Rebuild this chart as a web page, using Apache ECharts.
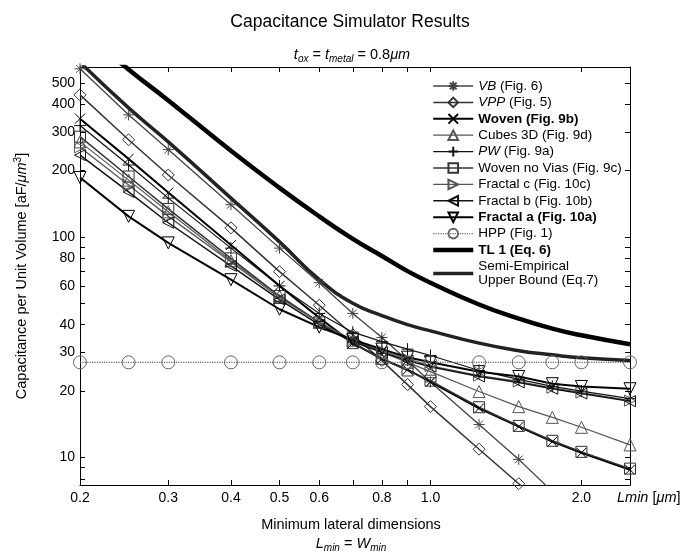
<!DOCTYPE html>
<html>
<head>
<meta charset="utf-8">
<script src="https://cdn.jsdelivr.net/npm/echarts@6/dist/echarts.min.js"></script>
<style>
html, body { margin: 0; padding: 0; background: #fff; }
#chart { width: 696px; height: 558px; }
</style>
</head>
<body>
<div id="chart"></div>
<script>
// Lmin = Wmin [um]
const xs = [0.2, 0.25, 0.3, 0.4, 0.5, 0.6, 0.7, 0.8, 0.9, 1.0, 1.25, 1.5, 1.75, 2.0, 2.5]

// capacitance per unit volume [aF/um^3]
const vb = [579, 358, 249, 140, 89, 62, 45, 35, 27.5, 22, 14.1, 9.8, 7.0]
const vpp = [441, 276, 191, 110, 69.6, 49, 36, 27.5, 21.4, 17.0, 10.9, 7.6, 5.6]
const woven = [344, 226, 159, 92, 60, 43, 33, 28, 25, 22, 16.7, 13.8, 11.8, 10.5, 8.8]
const cubes3d = [270, 181, 130, 78, 54, 41, 34, 30, 27, 24.5, 19.9, 17.0, 15.2, 13.7, 11.4]
const pw = [320, 212, 150, 89, 60, 45, 37, 33.5, 31, 29, 24.8, 22.6, 21, 20, 18.5]
const wovenNoVias = [285, 188, 134, 80, 54, 41, 33, 28, 24.8, 22.3, 16.9, 13.9, 11.9, 10.6, 8.9]
const fractalC = [255, 172, 124, 77, 53, 41, 34, 30.5, 28, 26, 23.5, 22.1, 20.7, 19.7, 18.1]
const fractalB = [235, 160, 116, 74, 52, 40, 33.5, 30, 27.5, 25.8, 23.3, 21.9, 20.5, 19.5, 18.0]
const fractalA = [186, 124, 94, 64, 47, 39, 34.2, 31, 28.5, 27, 24.5, 23.3, 21.6, 21, 20.5]
const hpp = [27, 27, 27, 27, 27, 27, 27, 27, 27, 27, 27, 27, 27, 27, 27]
const tl1 = [880, 575, 416, 246, 167, 124, 98, 82, 70, 62, 49.4, 42.6, 38.4, 35.8, 32.6]
const semiEmp = [620, 385, 270, 150, 95, 64, 50, 44, 40, 37.5, 33, 30.5, 29.2, 28.3, 27.5]

// axis ticks / labels
const xLabelVals = [0.2, 0.3, 0.4, 0.5, 0.6, 0.8, 1.0, 2.0]
const xTickVals = [0.2, 0.3, 0.4, 0.5, 0.6, 0.7, 0.8, 0.9, 1, 2]
const yLabelVals = [10, 20, 30, 40, 60, 80, 100, 200, 300, 400, 500]
const yTickVals = [8, 9, 10, 20, 30, 40, 50, 60, 70, 80, 90, 100, 200, 300, 400, 500]

const legendText = {
	'VB': '{i|VB} (Fig. 6)',
	'VPP': '{i|VPP} (Fig. 5)',
	'Woven': '{b|Woven (Fig. 9b)}',
	'Cubes 3D': 'Cubes 3D (Fig. 9d)',
	'PW': '{i|PW} (Fig. 9a)',
	'Woven no Vias': 'Woven no Vias (Fig. 9c)',
	'Fractal c': 'Fractal c (Fig. 10c)',
	'Fractal b': 'Fractal b (Fig. 10b)',
	'Fractal a': '{b|Fractal a (Fig. 10a)}',
	'HPP': 'HPP (Fig. 1)',
	'TL 1': '{b|TL 1 (Eq. 6)}',
	'Semi-Empirical': 'Semi-Empirical\nUpper Bound (Eq.7)',
}

const FONT = 'Liberation Sans, Arial, sans-serif'

const sym = {
	star: 'path://M5,0L5,10M0,5L10,5M1.5,1.5L8.5,8.5M1.5,8.5L8.5,1.5',
	cross: 'path://M0,0L10,10M0,10L10,0',
	plus: 'path://M5,0L5,10M0,5L10,5',
	triUp: 'path://M5,0L10,9L0,9Z',
	triDown: 'path://M0,0L10,0L5,9Z',
	triRight: 'path://M0,0L9,5L0,10Z',
	triLeft: 'path://M9,0L0,5L9,10Z',
}

function mk(name, vals, symbol, size, color, width, extra) {
	let s = {
		name: name,
		type: 'line',
		data: vals.map((v, i) => [xs[i], v]),
		symbol: symbol,
		symbolSize: size,
		showSymbol: symbol !== 'none',
		clip: true,
		lineStyle: { color: color, width: width },
		itemStyle: { color: 'rgba(0,0,0,0)', borderColor: symbol === 'none' ? 'rgba(0,0,0,0)' : color, borderWidth: symbol === 'none' ? 0 : 1 },
		emphasis: { disabled: true },
	}
	return Object.assign(s, extra || {})
}

const series = [
	mk('VB', vb, sym.star, 11, '#444', 1.3),
	mk('VPP', vpp, 'diamond', 12, '#333', 1.5),
	mk('Woven', woven, sym.cross, 10, '#000', 2),
	mk('Cubes 3D', cubes3d, sym.triUp, 12, '#555', 1.2),
	mk('PW', pw, sym.plus, 12, '#111', 1.2),
	mk('Woven no Vias', wovenNoVias, 'rect', 11, '#333', 1.5),
	mk('Fractal c', fractalC, sym.triRight, 11, '#555', 1.3),
	mk('Fractal b', fractalB, sym.triLeft, 11, '#111', 1.5),
	mk('Fractal a', fractalA, sym.triDown, 12, '#000', 2),
	mk('HPP', hpp, 'circle', 13, '#666', 1.2),
	mk('TL 1', tl1, 'none', 0, '#000', 4.5, { smooth: true }),
	mk('Semi-Empirical', semiEmp, 'none', 0, '#222', 3.5, { smooth: true }),
]
series[9].lineStyle.type = 'dotted'

function xAx(pos) {
	return {
		type: 'log',
		logBase: 10,
		position: pos,
		min: 0.2,
		max: 2.5,
		axisLine: { show: true, onZero: false, lineStyle: { color: '#000', width: 1 } },
		axisTick: { show: true, inside: true, length: 5, customValues: xTickVals, lineStyle: { color: '#000' } },
		axisLabel: {
			show: pos === 'bottom',
			customValues: xLabelVals,
			formatter: (v) => Number(v).toFixed(1),
			color: '#000',
			fontSize: 14,
			fontFamily: FONT,
			margin: 6,
		},
		splitLine: { show: false },
	}
}

function yAx(pos) {
	return {
		type: 'log',
		logBase: 10,
		position: pos,
		min: 7.5,
		max: 590,
		name: pos === 'left' ? 'Capacitance per Unit Volume [aF/{i|μm}{sup|3}]' : '',
		nameLocation: 'middle',
		nameRotate: 90,
		nameGap: 50,
		nameTextStyle: {
			color: '#000',
			fontSize: 14.5,
			fontFamily: FONT,
			rich: {
				i: { fontStyle: 'italic', fontSize: 14.5, fontFamily: FONT },
				sup: { fontSize: 10, fontFamily: FONT, verticalAlign: 'top', padding: [0, 0, 7, 0] },
			},
		},
		axisLine: { show: true, onZero: false, lineStyle: { color: '#000', width: 1 } },
		axisTick: { show: true, inside: true, length: 5, customValues: yTickVals, lineStyle: { color: '#000' } },
		axisLabel: {
			show: pos === 'left',
			customValues: yLabelVals,
			formatter: (v) => String(Math.round(v)),
			color: '#000',
			fontSize: 14,
			fontFamily: FONT,
			margin: 5,
		},
		splitLine: { show: false },
	}
}

const subRich = {
	i: { fontStyle: 'italic', fontSize: 14.5, fontFamily: FONT },
	sub: { fontStyle: 'italic', fontSize: 10, fontFamily: FONT, padding: [9, 0, 0, 0] },
}

const option = {
	animation: false,
	backgroundColor: '#fff',
	grid: { left: 80, right: 66, top: 67, bottom: 73, outerBoundsMode: 'none', containLabel: false },
	xAxis: [xAx('bottom'), xAx('top')],
	yAxis: [yAx('left'), yAx('right')],
	legend: {
		left: 426,
		top: 74,
		orient: 'vertical',
		itemWidth: 40,
		itemHeight: 12,
		itemGap: 2.4,
		textStyle: {
			fontSize: 13.5,
			fontFamily: FONT,
			color: '#000',
			lineHeight: 14,
			rich: {
				i: { fontStyle: 'italic', fontSize: 13.5, fontFamily: FONT },
				b: { fontWeight: 'bold', fontSize: 13.5, fontFamily: FONT },
			},
		},
		formatter: (name) => legendText[name],
		data: series.map((s) => ({ name: s.name, lineStyle: { width: s.lineStyle.width } })),
	},
	graphic: [
		{
			type: 'text', x: 350, y: 22,
			style: { text: 'Capacitance Simulator Results', font: '17.5px ' + FONT, fill: '#000', textAlign: 'center', textVerticalAlign: 'middle' },
		},
		{
			type: 'text', x: 352, y: 55,
			style: {
				text: '{i|t}{sub|ox} = {i|t}{sub|metal} = 0.8{i|μm}',
				font: '14.5px ' + FONT, fill: '#000', textAlign: 'center', textVerticalAlign: 'middle', rich: subRich,
			},
		},
		{
			type: 'text', x: 351, y: 525,
			style: { text: 'Minimum lateral dimensions', font: '14.5px ' + FONT, fill: '#000', textAlign: 'center', textVerticalAlign: 'middle' },
		},
		{
			type: 'text', x: 351, y: 544,
			style: {
				text: '{i|L}{sub|min} = {i|W}{sub|min}',
				font: '14.5px ' + FONT, fill: '#000', textAlign: 'center', textVerticalAlign: 'middle', rich: subRich,
			},
		},
		{
			type: 'text', x: 617, y: 498,
			style: {
				text: '{i|Lmin} [{i|μm}]',
				font: '14.5px ' + FONT, fill: '#000', textAlign: 'left', textVerticalAlign: 'middle', rich: subRich,
			},
		},
	],
	series: series,
}

const chart = echarts.init(document.getElementById('chart'))
chart.setOption(option)
window.addEventListener('resize', chart.resize)
</script>
</body>
</html>
